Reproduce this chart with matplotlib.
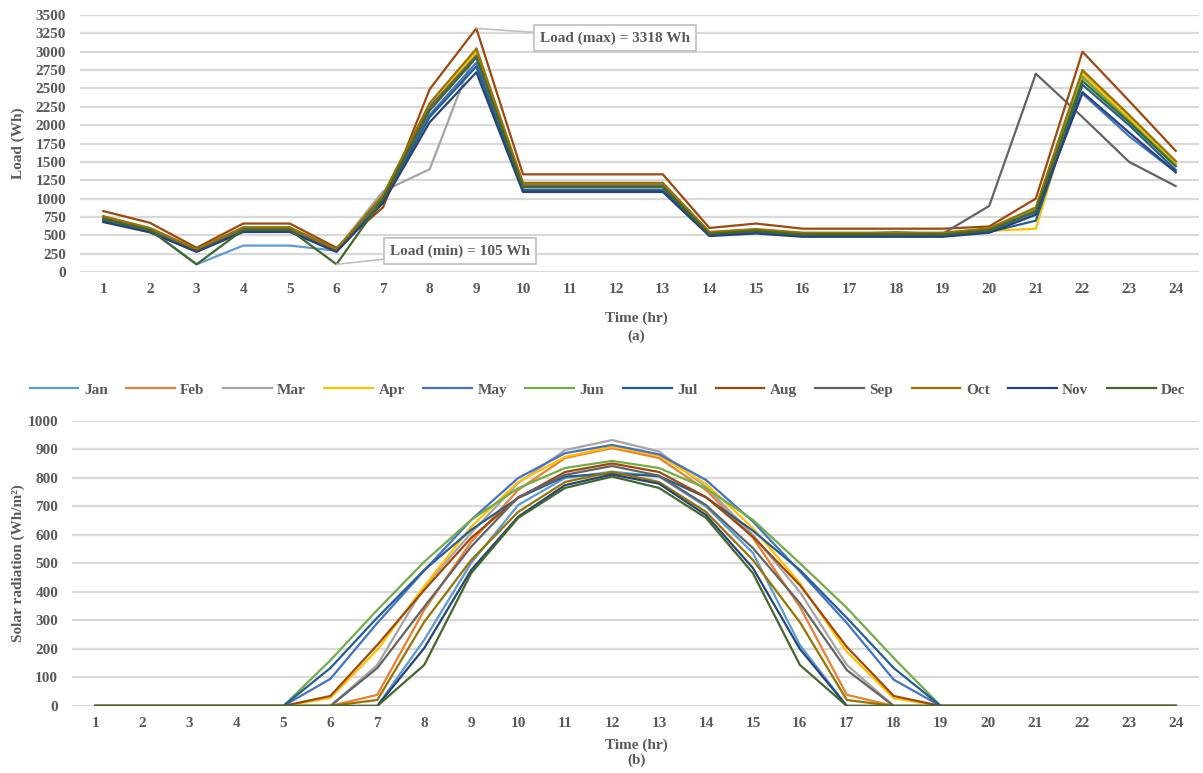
import numpy as np
import matplotlib
matplotlib.use("Agg")
import matplotlib.pyplot as plt

plt.rcParams['font.family'] = ['Liberation Serif', 'DejaVu Serif']
plt.rcParams['font.weight'] = 'bold'

TXT = '#595959'
GRID = '#D9D9D9'
FS = 11

hours = list(range(1, 25))
months = ['Jan', 'Feb', 'Mar', 'Apr', 'May', 'Jun',
          'Jul', 'Aug', 'Sep', 'Oct', 'Nov', 'Dec']
colors = ['#5B9BD5', '#ED7D31', '#A5A5A5', '#FFC000', '#4472C4', '#70AD47',
          '#255E91', '#9E480E', '#636363', '#997300', '#264478', '#43682B']

# hourly load (Wh), panel (a)
load_jan = [740, 580, 105, 360, 360, 290, 1010, 2240, 2980, 1180, 1180, 1180, 1180, 530, 570, 520, 520, 520, 520, 580, 850, 2680, 2080, 1470]
load_feb = [735, 585, 305, 595, 595, 305, 1030, 2260, 2970, 1185, 1185, 1185, 1185, 535, 575, 525, 525, 525, 525, 585, 860, 2700, 2090, 1480]
load_mar = [745, 590, 305, 600, 600, 305, 1100, 1400, 3050, 1205, 1205, 1205, 1205, 540, 580, 530, 530, 530, 530, 590, 870, 2730, 2120, 1500]
load_apr = [740, 585, 305, 595, 595, 305, 1030, 2270, 3000, 1190, 1190, 1190, 1190, 535, 575, 525, 525, 525, 525, 560, 590, 2700, 2100, 1485]
load_may = [695, 550, 285, 560, 560, 285, 970, 2140, 2850, 1120, 1120, 1120, 1120, 505, 540, 495, 495, 495, 495, 550, 810, 2430, 1850, 1360]
load_jun = [760, 575, 300, 585, 585, 300, 1010, 2230, 2950, 1170, 1170, 1170, 1170, 525, 565, 515, 515, 515, 515, 575, 840, 2650, 2060, 1455]
load_jul = [690, 545, 280, 555, 555, 280, 960, 2110, 2800, 1110, 1110, 1110, 1110, 500, 535, 490, 490, 490, 490, 545, 700, 2550, 2000, 1390]
load_aug = [830, 670, 330, 660, 660, 330, 880, 2490, 3318, 1330, 1330, 1330, 1330, 600, 660, 590, 590, 590, 590, 620, 1000, 3000, 2330, 1650]
load_sep = [735, 580, 300, 590, 590, 300, 1020, 2250, 2940, 1180, 1180, 1180, 1180, 530, 570, 520, 520, 540, 520, 900, 2700, 2110, 1500, 1170]
load_oct = [760, 600, 310, 610, 610, 310, 1050, 2300, 3040, 1215, 1215, 1215, 1215, 545, 585, 535, 535, 535, 535, 595, 880, 2750, 2140, 1510]
load_nov = [680, 540, 275, 545, 545, 275, 940, 2040, 2720, 1090, 1090, 1090, 1090, 490, 525, 480, 480, 480, 480, 535, 780, 2450, 1900, 1360]
load_dec = [720, 570, 105, 575, 575, 105, 1000, 2200, 2920, 1155, 1155, 1155, 1155, 520, 560, 510, 510, 510, 510, 570, 830, 2600, 2040, 1440]
loads = [load_jan, load_feb, load_mar, load_apr, load_may, load_jun,
         load_jul, load_aug, load_sep, load_oct, load_nov, load_dec]

# solar radiation (Wh/m2), panel (b)
sol_jan = [0, 0, 0, 0, 0, 0, 0, 232, 502, 705, 800, 822, 805, 700, 537, 214, 0, 0, 0, 0, 0, 0, 0, 0]
sol_feb = [0, 0, 0, 0, 0, 0, 39, 337, 576, 758, 870, 905, 870, 758, 590, 348, 39, 0, 0, 0, 0, 0, 0, 0]
sol_mar = [0, 0, 0, 0, 0, 0, 144, 418, 607, 782, 898, 933, 893, 769, 600, 400, 144, 0, 0, 0, 0, 0, 0, 0]
sol_apr = [0, 0, 0, 0, 0, 28, 197, 420, 629, 786, 874, 910, 878, 779, 624, 431, 190, 27, 0, 0, 0, 0, 0, 0]
sol_may = [0, 0, 0, 0, 0, 95, 291, 475, 653, 800, 887, 916, 883, 793, 647, 472, 291, 92, 0, 0, 0, 0, 0, 0]
sol_jun = [0, 0, 0, 0, 0, 160, 337, 506, 653, 764, 835, 860, 835, 764, 653, 501, 344, 168, 0, 0, 0, 0, 0, 0]
sol_jul = [0, 0, 0, 0, 0, 133, 310, 477, 618, 730, 805, 815, 807, 732, 615, 477, 309, 133, 0, 0, 0, 0, 0, 0]
sol_aug = [0, 0, 0, 0, 0, 35, 214, 407, 590, 730, 821, 851, 821, 733, 594, 424, 207, 35, 0, 0, 0, 0, 0, 0]
sol_sep = [0, 0, 0, 0, 0, 0, 133, 348, 559, 733, 811, 842, 808, 705, 554, 361, 126, 0, 0, 0, 0, 0, 0, 0]
sol_oct = [0, 0, 0, 0, 0, 0, 21, 295, 512, 681, 786, 821, 786, 681, 512, 294, 21, 0, 0, 0, 0, 0, 0, 0]
sol_nov = [0, 0, 0, 0, 0, 0, 0, 203, 477, 664, 775, 812, 780, 670, 484, 200, 0, 0, 0, 0, 0, 0, 0, 0]
sol_dec = [0, 0, 0, 0, 0, 0, 0, 144, 466, 660, 765, 805, 765, 660, 466, 144, 0, 0, 0, 0, 0, 0, 0, 0]
solar = [sol_jan, sol_feb, sol_mar, sol_apr, sol_may, sol_jun,
         sol_jul, sol_aug, sol_sep, sol_oct, sol_nov, sol_dec]


def style(ax, ymax, step):
    ax.set_xlim(0.5, 24.5)
    ax.set_ylim(0, ymax)
    ax.set_xticks(hours)
    ax.set_yticks(np.arange(0, ymax + 1, step))
    for s in ax.spines.values():
        s.set_visible(False)
    ax.grid(axis='y', color=GRID, lw=1.6)
    ax.set_axisbelow(True)
    ax.tick_params(length=0, colors=TXT, labelsize=FS)
    ax.tick_params(axis='x', pad=8)
    ax.tick_params(axis='y', pad=10)
    for lab in ax.get_xticklabels() + ax.get_yticklabels():
        lab.set_fontweight('bold')


fig = plt.figure(figsize=(12.03, 7.73), dpi=100)

# (a) load
ax1 = fig.add_axes([0.0665, 0.6481, 0.9302, 0.3325])
for m, c, v in zip(months, colors, loads):
    ax1.plot(hours, v, color=c, lw=1.6, label=m)
style(ax1, 3500, 250)

box = dict(boxstyle='square,pad=0.4', fc='white', ec='#BFBFBF', lw=1.2)
arr = dict(arrowstyle='-', color='#BFBFBF', lw=1.2, shrinkA=0, shrinkB=0)
ax1.annotate('Load (max) = 3318 Wh', xy=(9, 3318), xytext=(615, 773 - 38),
             textcoords='figure pixels', ha='center', va='center',
             fontsize=FS, fontweight='bold', color=TXT, bbox=box,
             arrowprops=arr)
ax1.annotate('Load (min) = 105 Wh', xy=(6, 105), xytext=(460, 773 - 251),
             textcoords='figure pixels', ha='center', va='center',
             fontsize=FS, fontweight='bold', color=TXT, bbox=box,
             arrowprops=arr)

# (b) solar radiation
ax2 = fig.add_axes([0.0599, 0.0867, 0.9368, 0.3687])
for m, c, v in zip(months, colors, solar):
    ax2.plot(hours, v, color=c, lw=1.6, label=m)
style(ax2, 1000, 100)

h, l = ax2.get_legend_handles_labels()
fig.legend(h, l, loc='center', bbox_to_anchor=(0.505, 1 - 390 / 773),
           ncol=12, frameon=False, handlelength=3.2, columnspacing=1.2,
           handletextpad=0.35, prop=dict(size=FS, weight='bold'),
           labelcolor=TXT)

kw = dict(ha='center', va='center', fontsize=FS, fontweight='bold', color=TXT)
fig.text(0.015, 1 - 143 / 773, 'Load (Wh)', rotation=90, **kw)
fig.text(0.529, 1 - 318 / 773, 'Time (hr)', **kw)
fig.text(0.529, 1 - 336 / 773, '(a)', **kw)

fig.text(0.015, 1 - 563 / 773, 'Solar radiation (Wh/m\u00b2)',
         rotation=90, **kw)
fig.text(0.529, 1 - 745 / 773, 'Time (hr)', **kw)
fig.text(0.529, 1 - 760 / 773, '(b)', **kw)

fig.savefig('out.png', dpi=100)
